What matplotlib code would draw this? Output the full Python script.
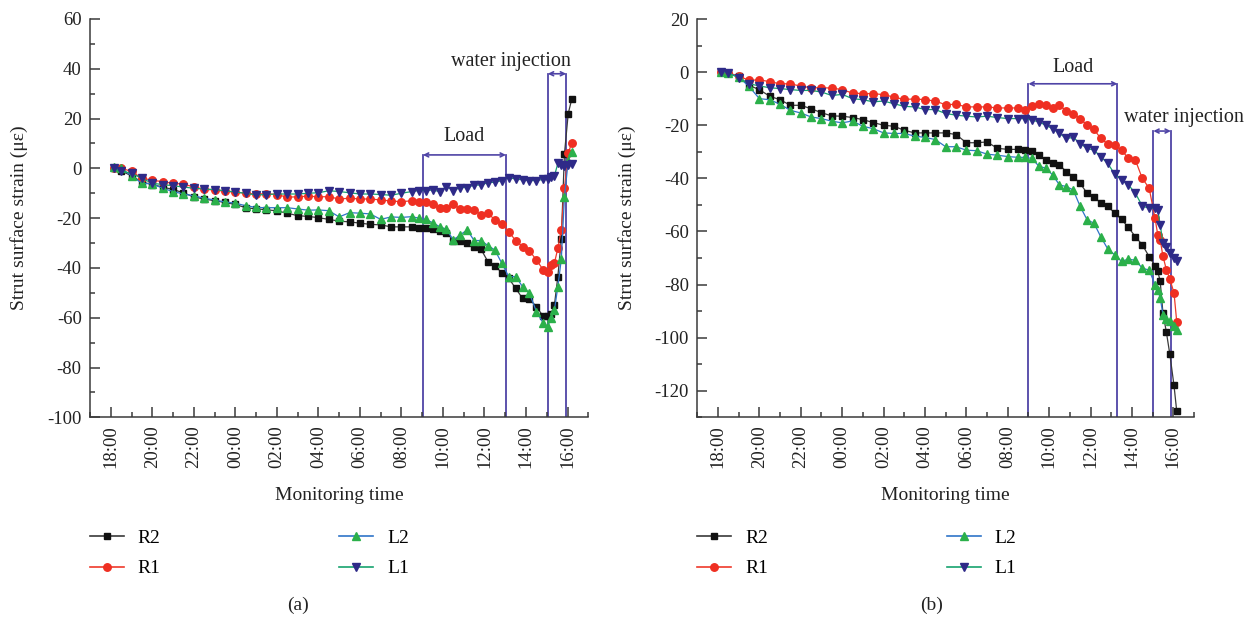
import matplotlib
matplotlib.use("Agg")
import matplotlib.pyplot as plt
from matplotlib.ticker import MultipleLocator, FixedLocator
from matplotlib.lines import Line2D

plt.rcParams['font.family'] = ['Liberation Serif', 'DejaVu Serif']
plt.rcParams['axes.unicode_minus'] = False

# ---------------- data ----------------
tick_labels = ["18:00", "20:00", "22:00", "00:00", "02:00", "04:00",
               "06:00", "08:00", "10:00", "12:00", "14:00", "16:00"]

times_main = ["18:10", "18:30", "19:00", "19:30", "20:00", "20:30", "21:00", "21:30",
              "22:00", "22:30", "23:00", "23:30", "00:00", "00:30", "01:00", "01:30",
              "02:00", "02:30", "03:00", "03:30", "04:00", "04:30", "05:00", "05:30",
              "06:00", "06:30", "07:00", "07:30", "08:00", "08:30", "08:50", "09:10",
              "09:30", "09:50", "10:10", "10:30", "10:50", "11:10", "11:30", "11:50",
              "12:10", "12:30", "12:50", "13:10", "13:30", "13:50", "14:10", "14:30", "14:50"]
times_water_a = ["15:03", "15:12", "15:22", "15:32", "15:42", "15:51", "16:02", "16:12"]
times_water_b = ["15:07", "15:15", "15:22", "15:30", "15:40", "15:50", "16:02", "16:10"]

# panel (a)
a_R2 = [0, -1, -3, -5.5, -6.5, -7.5, -8.5, -9.8, -11.5, -12.3, -13.0, -13.7, -14.5, -15.8,
        -16.3, -16.6, -17.1, -18.0, -19.0, -19.3, -19.8, -20.5, -21.2, -21.5, -22.0, -22.5,
        -22.7, -23.5, -23.5, -23.5, -23.8, -24.1, -24.3, -25.1, -25.8, -29.0, -29.0, -29.8,
        -31.4, -32.5, -37.5, -39.2, -41.9, -44.1, -48.2, -52.2, -52.6, -55.5, -59.5,
        -59.5, -58.5, -55.0, -43.5, -28.5, 5.7, 22.0, 27.7]
a_R1 = [0, 0, -1.2, -4, -4.7, -5.4, -6, -6.3, -7.5, -8.4, -8.7, -9.2, -9.6, -10, -10.3,
        -10.2, -10.5, -11.6, -11.4, -11.2, -11.4, -11.4, -12.3, -12.0, -12.3, -12.3, -12.7,
        -13.1, -13.4, -13.0, -13.4, -13.4, -14.3, -16.0, -16.0, -14.3, -16.4, -16.4, -16.6,
        -18.7, -18.0, -20.7, -22.3, -25.4, -29.0, -31.4, -33.1, -36.8, -40.8,
        -41.5, -39.0, -38.1, -32.1, -24.7, -8.0, 6.0, 10.3]
a_L2 = [0.5, 0, -3, -6, -6.2, -8, -9.3, -10.3, -11, -12, -12.7, -13.5, -14, -15, -15.7,
        -15.8, -15.8, -15.8, -16.3, -16.8, -16.7, -17, -19.5, -17.8, -18, -18.3, -20.5,
        -19.5, -19.7, -19.4, -20.0, -20.5, -21.8, -23.4, -24.5, -28.8, -26.7, -24.7, -29.0,
        -29.0, -31.0, -32.8, -38.1, -43.5, -43.5, -47.5, -50.2, -57.5, -62.2,
        -63.6, -60.0, -57.0, -47.5, -36.5, -11.5, 3.0, 6.7]
a_L1 = [0, -1, -2, -4, -6, -6.5, -7, -7.5, -8, -8.3, -8.5, -9, -9.5, -10, -10.7, -10.5,
        -10.3, -10.3, -10.3, -10, -9.8, -9, -9.3, -9.8, -10.3, -10.3, -10.5, -10.8, -10,
        -9.3, -8.9, -8.9, -8.7, -9.3, -7.3, -8.9, -7.7, -7.7, -6.7, -6.7, -5.7, -5.6, -4.9,
        -3.7, -4.3, -4.6, -4.9, -4.9, -4.4,
        -4.3, -3.5, -3.1, 2.0, 1.2, 1.0, 1.5, 1.8]

# panel (b)
b_R2 = [0, -0.4, -1.6, -5, -6.6, -9.1, -10.4, -12.5, -12.5, -13.8, -15.3, -16.5, -16.6,
        -17.1, -17.9, -19.0, -20.0, -20.4, -21.9, -22.9, -22.9, -22.9, -22.9, -23.5, -26.6,
        -26.6, -26.3, -28.7, -29.1, -29.1, -29.4, -29.6, -31.2, -33.1, -34.4, -35.0, -37.5,
        -39.4, -41.9, -45.6, -46.9, -49.4, -50.6, -53.0, -55.5, -58.5, -62.0, -65.0, -69.5,
        -72.9, -75.0, -78.8, -90.8, -98.0, -106.3, -118.0, -127.8]
b_R1 = [0, -0.3, -1.5, -3.1, -2.9, -3.6, -4.4, -4.4, -5.3, -5.9, -5.9, -6.0, -6.6, -7.9,
        -8.1, -8.1, -8.5, -9.4, -10.3, -10.1, -10.4, -10.9, -12.3, -12.1, -13.1, -13.1,
        -13.1, -13.5, -13.5, -13.5, -14.1, -12.9, -11.9, -12.5, -13.4, -12.5, -14.6, -15.6,
        -17.5, -20.0, -21.6, -25.0, -27.1, -27.5, -29.4, -32.5, -33.1, -40.0, -43.7,
        -55.0, -61.3, -63.1, -69.4, -74.4, -78.0, -83.1, -94.1]
b_L2 = [0.2, -0.4, -1.9, -5.4, -10.0, -10.4, -12.1, -14.4, -15.4, -16.9, -17.5, -18.5,
        -19.1, -18.4, -20.4, -21.3, -22.9, -23.1, -23.1, -24.1, -24.6, -25.4, -28.1, -28.1,
        -29.4, -29.6, -30.9, -31.3, -31.8, -32.1, -32.1, -32.5, -35.4, -36.2, -38.7, -42.5,
        -43.1, -44.4, -50.6, -55.6, -56.9, -62.1, -66.6, -68.8, -71.3, -70.4, -70.9, -73.8,
        -74.6,
        -80.0, -82.1, -85.0, -91.3, -93.0, -93.8, -95.5, -97.3]
b_L1 = [0, -0.4, -2.1, -4.4, -5.2, -5.9, -6.2, -6.6, -6.9, -6.9, -7.5, -8.8, -8.4, -10.0,
        -10.4, -11.2, -10.9, -11.9, -12.9, -13.1, -14.1, -14.1, -15.6, -16.2, -16.6, -16.9,
        -16.6, -17.1, -17.5, -17.5, -17.5, -18.1, -18.7, -20.0, -21.3, -23.1, -25.0, -24.6,
        -26.9, -28.7, -29.4, -31.9, -34.4, -38.4, -40.6, -42.5, -45.6, -50.4, -51.3,
        -51.3, -52.0, -57.5, -64.4, -66.0, -68.1, -70.0, -71.3]

series_names = ["R2", "R1", "L2", "L1"]

# annotation spans (clock times) and bracket heights (strain)
a_load_span = ["09:02", "13:02"]
a_water_span = ["15:03", "15:56"]
a_load_y, a_water_y = 5.4, 38.0
b_load_span = ["09:00", "13:18"]
b_water_span = ["15:02", "15:53"]
b_load_y, b_water_y = -4.4, -22.2


def hrs(s):
    h, m = map(int, s.split(":"))
    v = h + m / 60.0 - 18.0
    return v if v >= -1.0 else v + 24.0


styles = {
    "R2": dict(color="#3a3a3a", marker="s", mfc="#111111", mec="#111111", ms=4.8),
    "R1": dict(color="#ef3a2b", marker="o", mfc="#ef2f22", mec="#ef2f22", ms=5.4),
    "L2": dict(color="#2f74c8", marker="^", mfc="#2bb04a", mec="#2bb04a", ms=6.4),
    "L1": dict(color="#16a36e", marker="v", mfc="#2e2a88", mec="#2e2a88", ms=6.4),
}
bracket_color = "#4f44a6"
spine_color = "#3a3a3a"

W, H = 1259, 619
fig = plt.figure(figsize=(W / 100, H / 100), dpi=100)

panels = [
    dict(rect=(90, 19, 588.3, 417.3), ylim=(-100, 60), data=[a_R2, a_R1, a_L2, a_L1],
         water=times_water_a, load=a_load_span, wat=a_water_span, ly=a_load_y, wy=a_water_y,
         load_txt=(17.0, 12.7), wat_txt=(19.27, 43.0), tag="(a)", tagx=298,
         legx=90, ylx=19),
    dict(rect=(697.3, 19, 1194, 417.3), ylim=(-130, 20), data=[b_R2, b_R1, b_L2, b_L1],
         water=times_water_b, load=b_load_span, wat=b_water_span, ly=b_load_y, wy=b_water_y,
         load_txt=(17.15, 1.9), wat_txt=(22.53, -17.1), tag="(b)", tagx=932,
         legx=697.4, ylx=627),
]

for p in panels:
    x0, y0, x1, y1 = p["rect"]
    ax = fig.add_axes([x0 / W, 1 - y1 / H, (x1 - x0) / W, (y1 - y0) / H])
    tx = [hrs(t) for t in times_main + p["water"]]
    for name, vals in zip(series_names, p["data"]):
        st = styles[name]
        ax.plot(tx, vals, lw=0.9, label=name, **st)

    ymin = p["ylim"][0]
    # bracket lines
    for span, yb in ((p["load"], p["ly"]), (p["wat"], p["wy"])):
        xs = [hrs(s) for s in span]
        for xv in xs:
            ax.plot([xv, xv], [ymin, yb], color=bracket_color, lw=1.3, zorder=1)
        ax.annotate("", xy=(xs[1], yb), xytext=(xs[0], yb),
                    arrowprops=dict(arrowstyle="<->", color=bracket_color, lw=1.2,
                                    shrinkA=0, shrinkB=0, mutation_scale=7))
    ax.text(p["load_txt"][0], p["load_txt"][1], "Load", ha="center", va="center",
            fontsize=14.5, color="#222222")
    ax.text(p["wat_txt"][0], p["wat_txt"][1], "water injection", ha="center", va="center",
            fontsize=14.5, color="#222222", clip_on=False)

    ax.set_xlim(-1, 23)
    ax.set_ylim(*p["ylim"])
    ax.xaxis.set_major_locator(FixedLocator([hrs(t) for t in tick_labels]))
    ax.set_xticklabels(tick_labels, rotation=90)
    ax.xaxis.set_minor_locator(MultipleLocator(1))
    ax.yaxis.set_major_locator(MultipleLocator(20))
    ax.yaxis.set_minor_locator(MultipleLocator(10))
    ax.tick_params(which="major", direction="in", length=7, width=1.1, labelsize=13.5,
                   color=spine_color, labelcolor="#222222", pad=6)
    ax.tick_params(which="minor", direction="in", length=3.5, width=1.1, color=spine_color)
    for s in ("top", "right"):
        ax.spines[s].set_visible(False)
    for s in ("left", "bottom"):
        ax.spines[s].set_linewidth(1.1)
        ax.spines[s].set_color(spine_color)

    ax.set_xlabel("Monitoring time", fontsize=14, color="#222222")
    ax.xaxis.label.set_va("center")
    ax.xaxis.set_label_coords(0.5, (y1 - 495) / (y1 - y0))
    ax.set_ylabel("Strut surface strain (\u03bc\u03b5)", fontsize=14, color="#222222")
    ax.yaxis.label.set_va("center")
    ax.yaxis.set_label_coords((p["ylx"] - x0) / (x1 - x0), 0.5)

    handles = [Line2D([], [], lw=1.2, **styles[n]) for n in series_names]
    ax.legend(handles, series_names, ncol=2, loc="upper left",
              bbox_to_anchor=(p["legx"] / W, 1 - 529 / H), bbox_transform=fig.transFigure,
              frameon=False, fontsize=14, handlelength=1.75, handletextpad=0.7,
              columnspacing=9.2, labelspacing=0.68, borderpad=0, borderaxespad=0)

    fig.text(p["tagx"] / W, 1 - 605 / H, p["tag"], ha="center", va="center", fontsize=14,
             color="#222222")

fig.savefig("out.png", dpi=100)
